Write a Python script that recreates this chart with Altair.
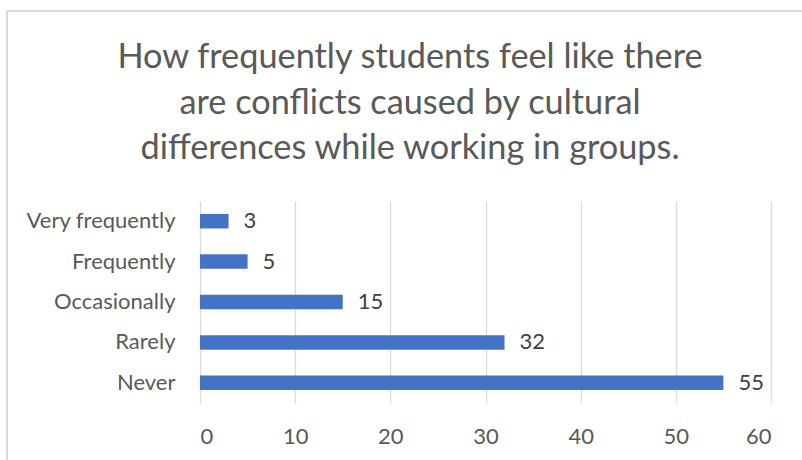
import altair as alt
import pandas as pd

categories = ["Very frequently", "Frequently ", "Occasionally", "Rarely ", "Never"]
values = [3, 5, 15, 32, 55]
x_ticks = [0, 10, 20, 30, 40, 50, 60]
title_lines = ["How frequently students feel like there",
               "are conflicts caused by cultural",
               "differences while working in groups."]

df = pd.DataFrame({"category": categories, "value": values})

FONT = "Lato"
TXT = "#595959"
FS = 22

y_enc = alt.Y("category:N", sort=categories, title=None,
              scale=alt.Scale(paddingInner=0.64, paddingOuter=0.32),
              axis=alt.Axis(labelFont=FONT, labelFontSize=FS, labelColor=TXT,
                            labelPadding=25, ticks=False, domain=False, grid=False))
x_enc = alt.X("value:Q", title=None,
              scale=alt.Scale(domain=[0, 60], nice=False),
              axis=alt.Axis(values=x_ticks, labelFont=FONT, labelFontSize=FS,
                            labelColor=TXT, labelPadding=23, ticks=False, domain=False,
                            grid=True, gridColor="#d9d9d9", gridWidth=1.3))

bars = alt.Chart(df).mark_bar(color="#4472C4").encode(x=x_enc, y=y_enc)
labels = alt.Chart(df).mark_text(align="left", baseline="middle", dx=15,
                                 font=FONT, fontSize=FS, color="#404040").encode(
    x="value:Q", y=alt.Y("category:N", sort=categories), text="value:Q")

frame_left = alt.Chart(df).mark_rule(color="#d9d9d9", strokeWidth=1.2).encode(
    x=alt.value(-193), y=alt.value(-190), y2=alt.value(262))
frame_top = alt.Chart(df).mark_rule(color="#d9d9d9", strokeWidth=1.2).encode(
    x=alt.value(-193), x2=alt.value(605), y=alt.value(-190))

title = alt.Chart(pd.DataFrame({"k": [0]})).mark_text(
    text=title_lines, font=FONT, fontSize=34.3, color=TXT, align="center",
    baseline="middle", lineHeight=45.5).encode(x=alt.value(210), y=alt.value(-143))

chart = alt.layer(frame_left, frame_top, title, bars, labels).properties(
    width=571, height=202,
    padding={"left": 200, "top": 201, "right": 31, "bottom": 57},
    autosize=alt.AutoSizeParams(type="none"),
    background="white",
).configure_view(stroke=None)

chart.save("out.html", embed_options={"renderer": "svg", "actions": False})
